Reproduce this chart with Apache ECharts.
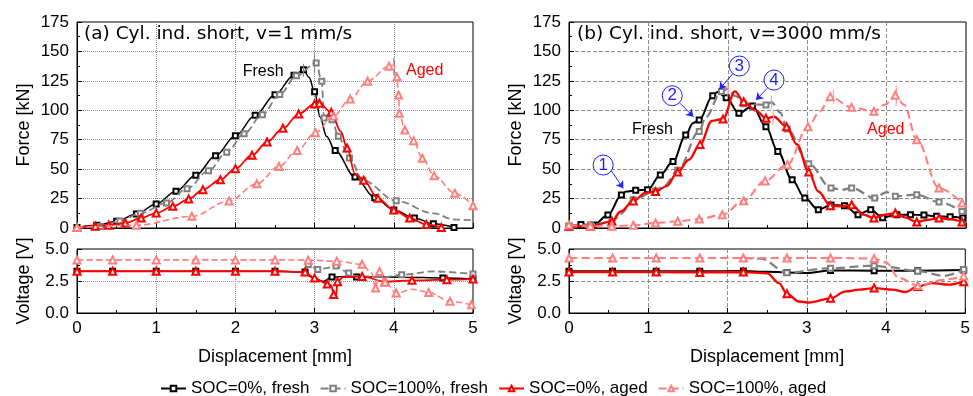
<!DOCTYPE html>
<html><head><meta charset="utf-8">
<script src="https://cdn.jsdelivr.net/npm/echarts@6/dist/echarts.min.js"></script>
<style>html,body{margin:0;padding:0;background:#fff}#c{width:973px;height:396px}</style>
</head><body><div id="c"></div>
<script>
// ---- legend names
const seriesNames = ['SOC=0%, fresh', 'SOC=100%, fresh', 'SOC=0%, aged', 'SOC=100%, aged'];
const titles = ['(a) Cyl. ind. short, v=1 mm/s', '(b) Cyl. ind. short, v=3000 mm/s'];
const forceTicks = [0, 25, 50, 75, 100, 125, 150, 175];
const voltTicks = [0, 2.5, 5];
const dispTicks = [0, 1, 2, 3, 4, 5];

// ---- (a) force, v=1 mm/s : marker points and in-between trace points [mm, kN]
const fA_fresh0 = [[0,0.5],[0.25,2.3],[0.5,5.7],[0.75,11.9],[1.0,20.4],[1.25,31.3],[1.5,44.8],[1.75,61.4],[2.0,78.4],[2.25,95.7],[2.5,113.3],[2.74,129.8],[2.86,134.5],[3.0,115.7],[3.26,65.8],[3.51,43.3],[3.76,25.8],[4.0,15.3],[4.26,8.6],[4.5,3.6],[4.76,0.5]];
const fA_fresh0_mid = [[2.93,128],[3.07,94],[3.15,78]];
const fA_fresh100 = [[0.3,1.2],[0.54,6],[0.8,12.5],[1.13,21.2],[1.39,33.4],[1.66,48.7],[1.89,64.3],[2.11,80.1],[2.34,96.3],[2.56,113.5],[2.77,129.3],[3.02,140.2],[3.09,124.6],[3.12,93.5],[3.22,92],[3.3,77.9],[3.44,59.5],[3.61,40.5],[4.03,23.2]];
const fA_fresh100_mid = [[0,0],[4.5,12.5],[4.76,7.2],[5.0,6.5]];
const fA_aged0 = [[0,0.5],[0.23,1.5],[0.4,2.3],[0.61,4.2],[0.81,8.5],[1.0,12.7],[1.21,18.4],[1.41,24.6],[1.59,32.6],[1.81,41],[2.0,50.4],[2.21,61.8],[2.4,73.1],[2.6,84.7],[2.8,96.8],[3.0,105.4],[3.06,106],[3.21,98.3],[3.41,68],[3.62,40.5],[3.8,25.2],[4.0,15.3],[4.2,8.5],[4.41,3],[4.6,0.5]];
const fA_aged0_mid = [[3.33,82],[3.51,46]];
const fA_aged100 = [[0,0.5],[0.75,2.3],[1.45,9.9],[1.92,23],[2.27,37.5],[2.55,52.2],[2.78,65.8],[3.01,81],[3.24,95.1],[3.45,109.5],[3.67,124.7],[3.94,137.5],[4.04,128.4],[4.06,113],[4.07,97.4],[4.14,83.3],[4.25,74.2],[4.36,59.3],[4.51,44.3],[4.77,29.6],[5.0,18.9]];
const fA_aged100_mid = [[4.0,138.5]];

// ---- (b) force, v=3000 mm/s
const fB_fresh0 = [[0,1],[0.15,3],[0.31,2.5],[0.49,11],[0.66,28],[0.84,32],[0.99,32.5],[1.15,45],[1.31,56.4],[1.47,79],[1.64,91.8],[1.81,112.4],[1.98,110.7],[2.14,97.4],[2.31,103.7],[2.48,86],[2.63,65],[2.81,41],[2.97,25.5],[3.14,15.6],[3.3,19.5],[3.47,19],[3.64,11.3],[3.8,15.5],[3.95,8.8],[4.13,11.3],[4.3,11.3],[4.47,11],[4.63,9.9],[4.8,9.5],[4.96,8.5]];
const fB_fresh0_mid = [[0.72,31],[1.56,89],[1.87,115.5]];
const fB_fresh100 = [[0,2],[0.27,2.5],[0.54,5],[0.81,24],[1.09,31.5],[1.37,49],[1.64,82],[1.92,116],[2.2,105.5],[2.48,104.5],[2.75,84],[3.02,54.6],[3.3,34],[3.56,34],[3.85,25.5],[4.11,27],[4.38,28.3],[4.66,22],[4.95,14]];
const fB_fresh100_mid = [[0.65,12],[1.2,36],[1.72,94],[1.99,118],[2.1,112],[2.55,107],[2.66,98],[3.44,32.5],[4.0,30.5]];
const fB_aged0 = [[0,1.5],[0.27,1.5],[0.54,5.7],[0.81,23],[1.09,31],[1.37,47.6],[1.65,71],[1.94,92.6],[2.2,107.3],[2.48,93.2],[2.74,86],[3.02,47.6],[3.29,19],[3.56,19.8],[3.84,8.5],[4.11,12.7],[4.38,5.1],[4.66,8.5],[4.95,5.1]];
const fB_aged0_mid = [[0.65,14],[0.97,30],[1.23,35.5],[1.51,58],[1.8,91],[2.09,116],[2.35,100],[2.58,94.5],[2.87,71],[3.14,31],[3.44,18.4],[3.71,11.3],[3.98,11.3],[4.23,9],[4.52,7],[4.8,7.6]];
const fB_aged100 = [[0,2.5],[0.27,1.5],[0.54,1.5],[0.81,2.3],[1.09,4.2],[1.37,5.7],[1.64,7.6],[1.93,11.3],[2.2,23.2],[2.47,40],[2.75,53.8],[3.01,86],[3.29,111.6],[3.56,102.5],[3.84,99.1],[4.11,112.7],[4.38,75],[4.66,34],[4.95,21.2]];
const fB_aged100_mid = [[3.16,99],[3.98,104.8],[4.22,104.8]];

// ---- error bars at the force peaks [mm, low kN, high kN]
const errA = [[2.86,131,137],[3.0,134,146],[4.0,132,142]];
const errB = [[2.0,114,121],[2.55,103,110],[2.57,90,97],[3.33,108,115],[4.12,106,119]];

// ---- (a) voltage [mm, V]
const vA_fresh0 = [[0,3.26],[0.45,3.26],[1.0,3.26],[1.5,3.26],[2.0,3.26],[2.5,3.26],[2.88,3.2],[3.22,2.81],[3.53,2.81],[4.62,2.73],[5.0,2.65]];
const vA_fresh0_mid = [[2.94,2.86],[3.0,2.65],[3.11,2.47],[3.41,2.86],[4.12,2.8]];
const vA_fresh100 = [[2.92,3.78],[3.04,3.4],[3.27,3.68],[3.43,3.12],[4.1,2.99],[5.0,3.05]];
const vA_fresh100_mid = [[2.88,4.12],[3.15,3.5],[3.53,2.86],[3.87,2.81],[4.5,3.25]];
const vA_aged0 = [[0,3.26],[0.45,3.26],[1.0,3.26],[1.5,3.26],[2.0,3.26],[2.5,3.26],[2.88,3.2],[3.0,2.73],[3.16,2.27],[3.24,1.45],[3.29,2.45],[3.6,2.86],[3.89,2.45],[4.23,2.55],[4.67,2.6],[5.0,2.65]];
const vA_aged0_mid = [[3.21,2.15],[3.27,1.35],[3.36,2.8]];
const vA_aged100 = [[0,4.15],[0.45,4.15],[1.0,4.15],[1.5,4.15],[2.0,4.15],[2.5,4.15],[2.92,4.13],[3.28,4.05],[3.6,3.8],[3.77,1.95],[3.82,3.25],[3.89,2.4],[4.03,1.56],[4.44,1.61],[4.71,0.91],[4.98,0.65]];
const vA_aged100_mid = [[3.72,3.12],[4.24,1.85]];

// ---- (b) voltage
const vB_fresh0 = [[0,3.26],[0.55,3.26],[1.1,3.26],[1.65,3.26],[2.2,3.28],[2.75,3.17],[3.3,3.33],[3.85,3.3],[4.4,3.3],[4.98,3.35]];
const vB_fresh0_mid = [[2.5,3.22],[3.0,3.12]];
const vB_fresh100 = [[2.75,3.15],[3.3,3.5],[3.85,3.7],[4.4,3.27],[4.98,3.4]];
const vB_fresh100_mid = [[2.2,4.3],[2.42,4.25],[4.02,3.6],[4.73,2.9]];
const vB_aged0 = [[0,3.2],[0.55,3.2],[1.1,3.2],[1.65,3.17],[2.2,3.2],[2.75,1.5],[3.3,1.15],[3.85,1.95],[4.4,2.08],[4.98,2.45]];
const vB_aged0_mid = [[2.5,3.1],[2.65,2.34],[2.9,0.9],[3.03,0.82],[3.49,1.69],[3.66,1.82],[4.08,1.82],[4.25,1.64],[4.58,2.34],[4.79,2.21]];
const vB_aged100 = [[0,4.3],[0.55,4.3],[1.1,4.3],[1.65,4.3],[2.2,4.3],[2.75,4.3],[3.3,4.3],[3.85,4.25],[4.4,2.15],[4.98,2.9]];
const vB_aged100_mid = [[4.0,3.95],[4.16,2.75],[4.73,2.6]];

// ---- annotations
const labelsA = [{t:'Fresh', p:[2.35,132.8], c:'#000'}, {t:'Aged', p:[4.39,134], c:'#ff0000'}];
const labelsB = [{t:'Fresh', p:[1.05,83.8], c:'#000'}, {t:'Aged', p:[3.99,83.8], c:'#ff0000'}];
const circles = [{t:'1', c:[0.43,53.5], from:[0.525,49.3], to:[0.684,33.7]},
                 {t:'2', c:[1.30,112.4], from:[1.398,106], to:[1.566,94.6]},
                 {t:'3', c:[2.145,137.6], from:[2.06,130.8], to:[1.893,117.8]},
                 {t:'4', c:[2.582,125.7], from:[2.497,118.7], to:[2.355,108.8]}];

const FONT = 'Liberation Sans, Arial, sans-serif';
function build(marks, mids) {
  const a = marks.map(p => ({value: p}));
  const b = (mids || []).map(p => ({value: p, symbol: 'none'}));
  return a.concat(b).sort((u, v) => u.value[0] - v.value[0]);
}
const styles = [
  {color:'#000000', type:'solid', symbol:'emptyRect', size:5, w:1.5},
  {color:'#808080', type:'dashed', symbol:'emptyRect', size:5, w:1.8},
  {color:'#ff0000', type:'solid', symbol:'emptyTriangle', size:7, w:1.8},
  {color:'#ff7f7f', type:'dashed', symbol:'emptyTriangle', size:7, w:1.6}
];
function mkSeries(gi, sets, wBoost) {
  return sets.map((s, i) => ({
    type:'line', name: seriesNames[i], xAxisIndex: gi, yAxisIndex: gi,
    data: build(s[0], s[1]), smooth: 0.35, smoothMonotone: 'x',
    symbol: styles[i].symbol, symbolSize: styles[i].size, showAllSymbol: true,
    lineStyle: {color: styles[i].color, type: styles[i].type, width: styles[i].w + (wBoost||0)},
    itemStyle: {color: styles[i].color, borderColor: styles[i].color, borderWidth: 1},
    emphasis: {disabled: true}, animation: false, z: 2 + i
  }));
}
function errLines(list, color) {
  return {silent:true, animation:false, symbol:['rect','rect'], symbolSize:[1,6], label:{show:false},
    lineStyle:{color: color, type:'solid', width:1},
    data: list.map(e => [{coord:[e[0], e[1]]}, {coord:[e[0], e[2]]}])};
}
const grids = [
  {left:77, top:22, width:396, height:206},
  {left:569, top:22, width:397, height:206},
  {left:77, top:249, width:396, height:64},
  {left:569, top:249, width:397, height:64}
];
function xAx(gi, showLabels, gridType) {
  return {type:'value', gridIndex: gi, min: dispTicks[0], max: dispTicks[dispTicks.length-1], interval: 1,
    axisLine:{show:true, lineStyle:{color:'#000', width:1}},
    axisTick:{show:true, inside:true, length:5, lineStyle:{color:'#000'}},
    minorTick:{show:true, splitNumber:2, length:3, lineStyle:{color:'#000'}},
    axisLabel:{show: showLabels, fontSize:17, color:'#000', fontFamily: FONT, margin:7},
    splitLine:{show:true, showMinLine:false, showMaxLine:false, lineStyle:{color:'#8c8c8c', type: gridType, width:1}},
    name: showLabels ? 'Displacement [mm]' : '', nameLocation:'middle', nameGap: 35,
    nameTextStyle:{fontSize:18, color:'#000', fontFamily: FONT}};
}
function yAx(gi, isForce, gridType) {
  const t = isForce ? forceTicks : voltTicks;
  return {type:'value', gridIndex: gi, min: t[0], max: t[t.length-1], interval: t[1]-t[0],
    axisLine:{show:true, lineStyle:{color:'#000', width:1}},
    axisTick:{show:true, inside:true, length:5, lineStyle:{color:'#000'}},
    minorTick:{show:true, splitNumber:2, length:3, lineStyle:{color:'#000'}},
    axisLabel:{fontSize:17, color:'#000', fontFamily: FONT, margin:8,
      formatter: isForce ? (v => String(v)) : (v => v.toFixed(1))},
    splitLine:{show:true, showMinLine:false, showMaxLine:false, lineStyle:{color:'#8c8c8c', type: gridType, width:1}},
    name: isForce ? 'Force [kN]' : 'Voltage [V]', nameLocation:'middle', nameGap: 44,
    nameTextStyle:{fontSize:18, color:'#000', fontFamily: FONT}};
}

const sA = mkSeries(0, [[fA_fresh0,fA_fresh0_mid],[fA_fresh100,fA_fresh100_mid],[fA_aged0,fA_aged0_mid],[fA_aged100,fA_aged100_mid]], 0);
const sB = mkSeries(1, [[fB_fresh0,fB_fresh0_mid],[fB_fresh100,fB_fresh100_mid],[fB_aged0,fB_aged0_mid],[fB_aged100,fB_aged100_mid]], 0.5);
const sC = mkSeries(2, [[vA_fresh0,vA_fresh0_mid],[vA_fresh100,vA_fresh100_mid],[vA_aged0,vA_aged0_mid],[vA_aged100,vA_aged100_mid]], 0);
const sD = mkSeries(3, [[vB_fresh0,vB_fresh0_mid],[vB_fresh100,vB_fresh100_mid],[vB_aged0,vB_aged0_mid],[vB_aged100,vB_aged100_mid]], 0.5);

function textPoints(list) {
  return {symbol:'none', silent:true, animation:false,
    data: list.map(l => ({coord: l.p, symbol:'circle', symbolSize:0,
      label:{show:true, formatter: l.t, color: l.c, fontSize:16, fontFamily: FONT, position:'inside'}}))};
}
sA[0].markPoint = textPoints(labelsA);
sA[1].markLine = errLines(errA, '#808080');
sB[0].markPoint = textPoints(labelsB);
sB[3].markLine = errLines(errB, '#ff9a9a');
sB[1].markPoint = {silent:true, animation:false,
  data: circles.map(c => ({coord: c.c, symbol:'circle', symbolSize:20,
    itemStyle:{color:'#fff', borderColor:'#1f1fff', borderWidth:1},
    label:{show:true, formatter: c.t, color:'#1f1fff', fontSize:17, fontFamily: FONT, position:'inside'}}))};
sB[1].markLine = {silent:true, animation:false, symbol:['none','arrow'], symbolSize:7, label:{show:false},
  lineStyle:{color:'#1f1fff', type:'solid', width:1},
  data: circles.map(c => [{coord: c.from}, {coord: c.to}])};

const option = {
  backgroundColor:'#fff', animation:false,
  title: [
    {text: titles[0], left: 84, top: 25, padding: 0, textStyle:{fontFamily:'DejaVu Sans', fontSize:18.5, fontWeight:'normal', color:'#000'}},
    {text: titles[1], left: 577, top: 25, padding: 0, textStyle:{fontFamily:'DejaVu Sans', fontSize:18.5, fontWeight:'normal', color:'#000'}}
  ],
  legend: {data: seriesNames, left: 155, top: 375, itemWidth: 25, itemHeight: 7, itemGap: 10,
    textStyle:{fontSize:17, color:'#000', fontFamily: FONT}, selectedMode:false},
  grid: grids.map(g => Object.assign({show:true, borderColor:'#000', borderWidth:1, backgroundColor:'transparent'}, g)),
  xAxis: [xAx(0,false,'dotted'), xAx(1,false,'dashed'), xAx(2,true,'dotted'), xAx(3,true,'dashed')],
  yAxis: [yAx(0,true,'dotted'), yAx(1,true,'dashed'), yAx(2,false,'dotted'), yAx(3,false,'dashed')],
  series: sA.concat(sB, sC, sD)
};
const chart = echarts.init(document.getElementById('c'), null, {renderer:'canvas'});
chart.setOption(option);
</script></body></html>
